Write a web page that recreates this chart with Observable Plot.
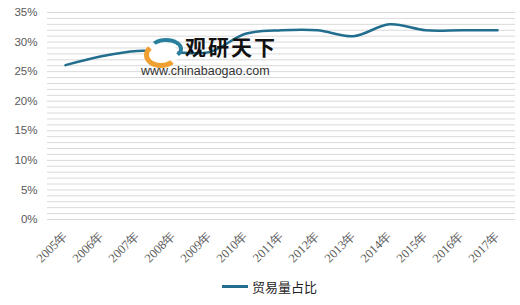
<!DOCTYPE html>
<html>
<head>
<meta charset="utf-8">
<script src="https://cdn.jsdelivr.net/npm/d3@7"></script>
<script src="https://cdn.jsdelivr.net/npm/@observablehq/plot@0.6"></script>
<style>
  html, body { margin: 0; padding: 0; background: #fff; }
  #wrap { position: relative; width: 520px; height: 305px; overflow: hidden; font-family: "Noto Sans CJK SC", "Noto Sans", sans-serif; }
  #legend { position: absolute; left: 222px; top: 277px; display: flex; align-items: center; font-size: 13px; color: #222; }
  #legend .sw { width: 26px; height: 3px; background: #226e8f; margin-right: 4px; }
  #wm { position: absolute; left: 141px; top: 36px; pointer-events: none; }
  #wm .brand { position: absolute; left: 44px; top: -3px; font-size: 21px; line-height: 26px; font-weight: 700; color: #111; letter-spacing: 2px; white-space: nowrap; font-family: "Noto Sans CJK SC", sans-serif; }
  #wm .url { position: absolute; left: 0px; top: 28px; font-size: 12.5px; line-height: 14px; color: #333; white-space: nowrap; font-family: "Liberation Sans", Arial, sans-serif; }
  #wm .logo1 { position: absolute; left: 3px; top: 6px; width: 24px; height: 16px; border-radius: 50%; border: 5px solid #f0a030; border-top-color: transparent; border-right-color: transparent; background: #fff; }
  #wm .logo2 { position: absolute; left: 8px; top: 2px; width: 26px; height: 14px; border-radius: 50%; border: 4px solid #2a7f9e; border-bottom-color: transparent; border-left-color: transparent; }
</style>
</head>
<body>
<div id="wrap">
  <div id="chart"></div>
  <div id="wm">
    <div class="logo1"></div>
    <div class="logo2"></div>
    <div class="brand">观研天下</div>
    <div class="url">www.chinabaogao.com</div>
  </div>
  <div id="legend"><div class="sw"></div><span>贸易量占比</span></div>
</div>
<script>
const years = ["2005年","2006年","2007年","2008年","2009年","2010年","2011年","2012年","2013年","2014年","2015年","2016年","2017年"];
const shares = [26.1, 27.6, 28.5, 28.3, 28.3, 31.4, 32.0, 32.0, 31.0, 33.0, 32.0, 32.0, 32.0];
const yTicks = [0, 5, 10, 15, 20, 25, 30, 35];
const gridTicks = d3.range(0, 36, 1);
const seriesName = "贸易量占比";

const data = years.map((y, i) => ({year: y, value: shares[i]}));

const chart = Plot.plot({
  width: 520,
  height: 270,
  marginLeft: 47,
  marginRight: 5,
  marginTop: 12,
  marginBottom: 51,
  style: {background: "transparent", overflow: "visible"},
  x: {type: "point", domain: years, padding: 0.5, label: null},
  y: {domain: [0, 35], label: null},
  marks: [
    Plot.ruleY(gridTicks, {y: d => d, stroke: "#d9d9d9", strokeWidth: 1}),
    Plot.axisY(yTicks, {tickSize: 0, tickPadding: 10, tickFormat: d => d + "%", fontSize: 11.5, fill: "#595959", fontFamily: "Liberation Sans, Arial, sans-serif", label: null}),
    Plot.axisX({tickSize: 0, tickPadding: 14, tickRotate: -45, fontSize: 12.5, fill: "#595959", fontFamily: "Liberation Serif, serif", label: null}),
    Plot.line(data, {x: "year", y: "value", stroke: "#226e8f", strokeWidth: 2.5, curve: "catmull-rom"})
  ]
});
document.getElementById("chart").appendChild(chart);
</script>
</body>
</html>
